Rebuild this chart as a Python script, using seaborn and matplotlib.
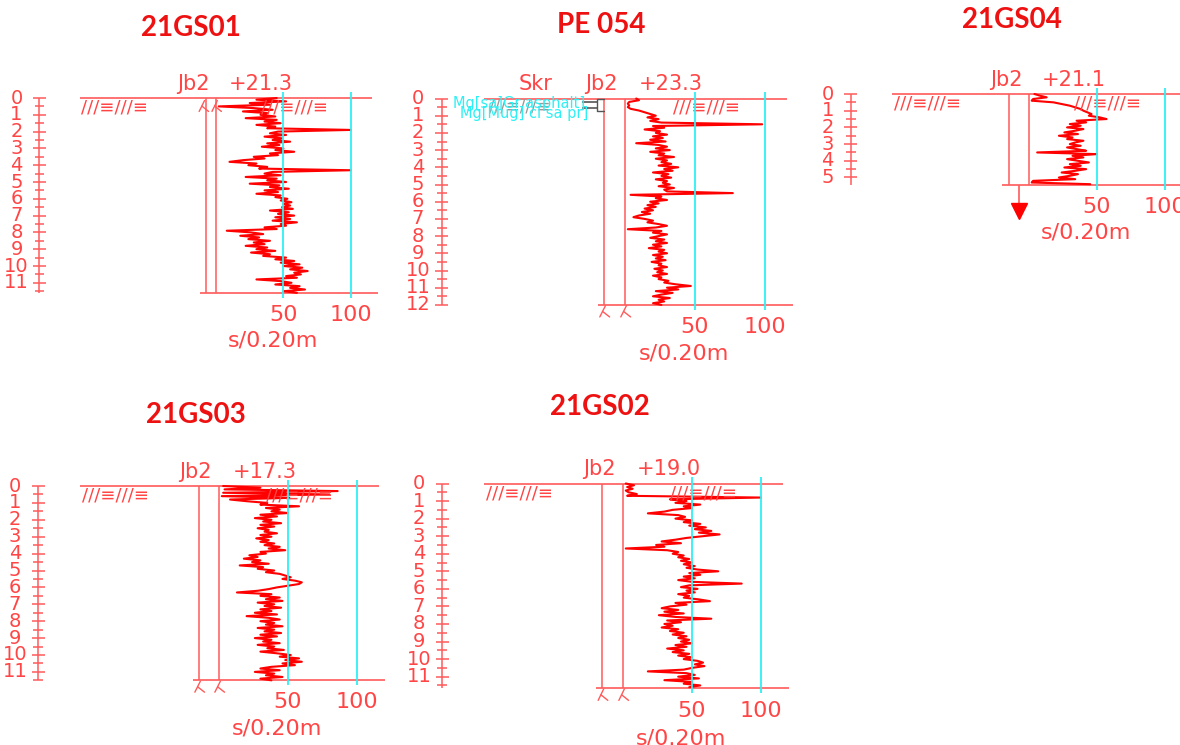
import numpy as np
import matplotlib
matplotlib.use('Agg')
import matplotlib.pyplot as plt
from matplotlib import font_manager
import seaborn as sns

sns.set_style('white')
installed = {f.name for f in font_manager.fontManager.ttflist}
narrow = [f for f in ['Liberation Sans Narrow', 'DejaVu Sans Condensed'] if f in installed]
plt.rcParams['font.family'] = narrow + ['DejaVu Sans']
condensed = bool(narrow)

gs01 = [45, 30, 52, 25, 40, 2, 28, 42, 20, 38,
        33, 44, 22, 45, 36, 48, 30, 44, 38, 100,
        46, 40, 52, 36, 49, 42, 55, 38, 47, 34,
        50, 44, 58, 40, 46, 28, 36, 20, 10, 30,
        24, 38, 32, 100, 42, 36, 48, 22, 45, 38,
        52, 25, 47, 40, 54, 36, 46, 30, 48, 44,
        53, 48, 56, 50, 55, 49, 57, 40, 54, 46,
        58, 44, 55, 42, 60, 48, 52, 36, 45, 8,
        26, 35, 18, 32, 24, 40, 28, 36, 22, 38,
        30, 44, 26, 40, 35, 52, 44, 58, 48, 62,
        50, 64, 55, 68, 58, 63, 52, 60, 30, 48,
        56, 44, 62, 55, 66, 50, 60]
pe054 = [8, 10, 3, 2, 3, 2, 4, 10, 14, 18,
         22, 16, 24, 18, 26, 98, 20, 28, 14, 25,
         22, 30, 20, 27, 18, 29, 8, 24, 30, 22,
         32, 18, 28, 24, 35, 22, 30, 26, 33, 24,
         38, 28, 34, 20, 31, 26, 33, 22, 30, 27,
         32, 24, 35, 28, 30, 77, 4, 26, 22, 30,
         18, 24, 16, 22, 14, 20, 12, 18, 10, 6,
         14, 20, 16, 24, 30, 22, 2, 26, 20, 30,
         24, 18, 28, 22, 30, 20, 26, 17, 28, 24,
         30, 20, 27, 22, 29, 19, 26, 24, 30, 21,
         27, 23, 30, 20, 26, 24, 31, 28, 36, 47,
         30, 38, 22, 34, 26, 20, 32, 24, 28, 20, 26]
gs04 = [4, 8, 13, 3, 2, 18, 24, 30, 34, 38,
        40, 43, 46, 44, 52, 57, 35, 42, 30, 38,
        28, 40, 34, 26, 36, 22, 32, 28, 40, 34,
        30, 38, 28, 35, 42, 6, 50, 32, 40, 28,
        36, 44, 30, 38, 26, 42, 34, 24, 36, 30,
        22, 34, 3, 2, 45]
gs03 = [3, 30, 4, 86, 3, 80, 2, 51, 8, 20,
        35, 30, 58, 34, 44, 38, 50, 30, 42, 26,
        38, 32, 45, 30, 40, 28, 36, 33, 42, 30,
        38, 27, 36, 30, 40, 33, 44, 36, 48, 30,
        34, 22, 28, 18, 30, 24, 36, 15, 32, 28,
        40, 34, 44, 48, 52, 46, 55, 60, 58, 50,
        42, 36, 28, 13, 38, 30, 44, 34, 46, 28,
        40, 33, 45, 30, 38, 26, 42, 20, 36, 44,
        30, 40, 34, 46, 28, 40, 33, 45, 30, 42,
        26, 38, 32, 44, 28, 40, 35, 47, 30, 42,
        52, 44, 58, 48, 60, 46, 55, 38, 30, 44,
        26, 40, 34, 46, 30, 38]
gs02 = [2, 8, 3, 7, 2, 4, 10, 3, 100, 34,
        46, 38, 56, 44, 50, 36, 30, 18, 40, 45,
        38, 50, 44, 56, 48, 60, 52, 64, 55, 70,
        58, 46, 38, 28, 42, 24, 30, 2, 32, 40,
        36, 44, 40, 48, 42, 50, 44, 52, 46, 54,
        69, 48, 56, 44, 52, 40, 50, 86, 48, 42,
        54, 46, 52, 40, 48, 44, 55, 63, 38, 46,
        34, 28, 40, 30, 44, 26, 38, 64, 32, 42,
        30, 36, 28, 40, 34, 44, 36, 46, 40, 48,
        42, 50, 38, 46, 32, 44, 36, 48, 40, 50,
        44, 54, 58, 52, 59, 50, 44, 18, 46, 52,
        40, 55, 30, 50, 44, 56, 48]

names = ['21GS01', 'PE 054', '21GS04', '21GS03', '21GS02']
levels = ['+21.3', '+23.3', '+21.1', '+17.3', '+19.0']
end_depths = [11.6, 12.0, 5.45, 11.5, 11.65]
series = [gs01, pe054, gs04, gs03, gs02]
step = 0.1

# pixel placement of every log: origin (x=0, depth 0), px per unit, px per m
layout = [
    dict(x0=216, sx=1.348, y0=98, sy=16.8, col=-7.5, mark='top', title=(191, 28)),
    dict(x0=625, sx=1.40, y0=98.5, sy=17.2, col=-15, mark='bottom', title=(601, 25)),
    dict(x0=1029, sx=1.36, y0=94, sy=16.7, col=-15, mark='arrow', title=(1012, 20)),
    dict(x0=219, sx=1.38, y0=486, sy=16.9, col=-14.5, mark='bottom', title=(196, 415)),
    dict(x0=623, sx=1.38, y0=483.5, sy=17.56, col=-15, mark='bottom', title=(600, 407)),
]

W, H = 1180, 745
LINE = '#ff5a5a'
TXT = '#ff4545'
CURVE = '#ff0000'
CYAN = '#2ef0f4'
num_fs = 15 if condensed else 14
lab_fs = 17 if condensed else 15
cyan_fs = 12.5 if condensed else 10.5

fig = plt.figure(figsize=(W / 100, H / 100), dpi=100)


def lambda_mark(ax, c, d):
    ax.plot([c, c - 4], [d + 0.05, d + 0.7], color=LINE, lw=1)
    ax.plot([c - 2, c + 3], [d + 0.38, d + 0.7], color=LINE, lw=1)


for name, lev, end, vals, lay in zip(names, levels, end_depths, series, layout):
    xl, xr = -165, 125
    yt, yb = -1.8, end + 3.3
    left = lay['x0'] + xl * lay['sx']
    top = lay['y0'] + yt * lay['sy']
    bot = lay['y0'] + yb * lay['sy']
    ax = fig.add_axes([left / W, 1 - bot / H, (xr - xl) * lay['sx'] / W, (bot - top) / H])
    ax.set_xlim(xl, xr)
    ax.set_ylim(yb, yt)
    ax.axis('off')

    # depth scale
    ax.vlines(-131, 0, end, color=LINE, lw=1.1)
    for d in np.arange(0, end + 0.01, 0.5):
        hw = 4.8 if d % 1 == 0 else 3.6
        ax.hlines(d, -131 - hw, -131 + hw, color=LINE, lw=1.1)
        if d % 1 == 0:
            ax.text(-148, d, str(int(d)), color=TXT, fontsize=num_fs, ha='center', va='center')

    # ground surface, hatch and borehole column
    ax.hlines(0, -101, 116, color=LINE, lw=1.2)
    if name != 'PE 054':
        ax.text(-75, 0.55, '///≡///≡', color=TXT, fontsize=13, ha='center', va='center',
                family='DejaVu Sans')
    ax.text(58, 0.55, '///≡///≡', color=TXT, fontsize=13, ha='center', va='center',
            family='DejaVu Sans')
    ax.text(-17, -0.85, 'Jb2', color=TXT, fontsize=lab_fs, ha='center', va='center')
    ax.text(33, -0.85, lev, color=TXT, fontsize=lab_fs, ha='center', va='center')
    ax.vlines([lay['col'], 0], 0, end, color=LINE, lw=1.1)
    ax.hlines(end, lay['col'] - 4.5, 120, color=LINE, lw=1.2)

    # sounding curve
    depth = np.round(np.arange(len(vals)) * step, 2)
    depth[-1] = min(depth[-1], end)
    sns.lineplot(x=vals, y=depth, sort=False, estimator=None, color=CURVE,
                 lw=1.5, ax=ax, legend=False)

    ax.vlines([50, 100], -0.35, end + 0.3, color=CYAN, lw=1.3, zorder=5)
    for v in (50, 100):
        ax.text(v, end + 1.3, str(v), color=TXT, fontsize=lab_fs + 1, ha='center', va='center')
    ax.text(42, end + 2.85, 's/0.20m', color=TXT, fontsize=lab_fs + 1, ha='center', va='center')

    if lay['mark'] == 'top':
        lambda_mark(ax, lay['col'] - 1, 0.1)
        lambda_mark(ax, 1, 0.1)
    elif lay['mark'] == 'bottom':
        lambda_mark(ax, lay['col'] + 1, end)
        lambda_mark(ax, 1, end)
    else:
        ax.vlines(-7.5, end, end + 1.1, color=LINE, lw=1.2)
        ax.plot([-7.5], [end + 1.55], marker='v', ms=11, color=CURVE, mec=CURVE)

    if name == 'PE 054':
        ax.text(-64, -0.85, 'Skr', color=TXT, fontsize=lab_fs, ha='center', va='center')
        ax.text(-75, 0.45, '///≡///≡', color='#999999', fontsize=12, ha='center',
                va='center', family='DejaVu Sans')
        ax.text(-76, 0.3, 'Mg[sa]Gr asphalt]', color=CYAN, fontsize=cyan_fs, ha='center', va='center')
        ax.text(-72, 0.85, 'Mg[Mug] cl sa pr]', color=CYAN, fontsize=cyan_fs, ha='center', va='center')
        ax.hlines([0.2, 0.55], -31, -20, color='#555555', lw=1.2)
        ax.plot([-15, -20, -20, -15], [0.05, 0.05, 0.7, 0.7], color='#555555', lw=1)

    fig.text(lay['title'][0] / W, 1 - lay['title'][1] / H, name, color='#ee1111',
             fontsize=20, fontweight='bold', family='Lato', ha='center', va='center')

fig.savefig('out.png', dpi=100)
